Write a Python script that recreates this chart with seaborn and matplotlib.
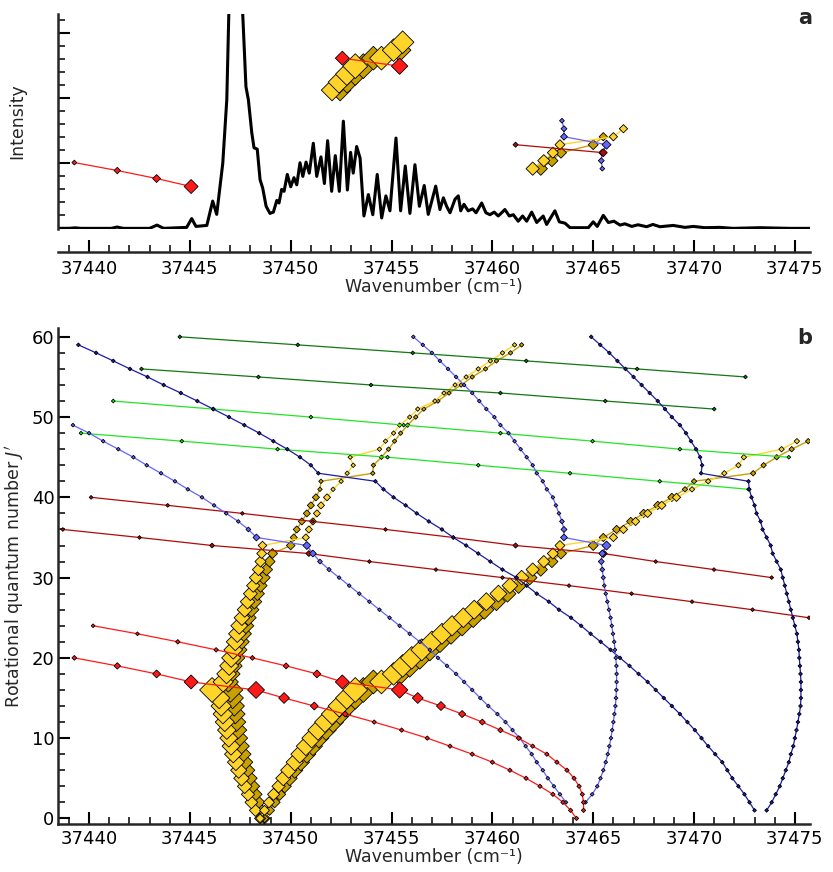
import numpy as np
import pandas as pd
import matplotlib
matplotlib.use("Agg")
import matplotlib.pyplot as plt
import seaborn as sns
from matplotlib.ticker import MultipleLocator

# ---------------- data: panel a spectrum (wavenumber, intensity) ----------------
spectrum_points = [
    (37438.46, 0.0), (37439.0, 0.0), (37439.31, 0.008), (37439.6, 0.0), (37440.55, 0.0),
    (37441.1, 0.0), (37441.39, 0.02), (37441.7, 0.0), (37442.03, 0.0), (37443.0, 0.0),
    (37443.37, 0.05), (37443.7, 0.0), (37444.51, 0.01), (37444.84, 0.015), (37445.09, 0.15),
    (37445.3, 0.03), (37445.84, 0.045), (37446.13, 0.42), (37446.33, 0.215), (37446.63, 1.0),
    (37446.83, 1.98), (37446.93, 3.3), (37447.25, 5.0), (37447.62, 3.3), (37447.78, 2.18),
    (37447.9, 1.98), (37448.07, 1.47), (37448.18, 1.24), (37448.34, 1.22), (37448.48, 0.75),
    (37448.61, 0.62), (37448.78, 0.34), (37448.97, 0.23), (37449.14, 0.25), (37449.31, 0.43),
    (37449.42, 0.39), (37449.55, 0.60), (37449.67, 0.57), (37449.83, 0.83), (37450.0, 0.64),
    (37450.16, 0.78), (37450.3, 0.67), (37450.46, 1.01), (37450.6, 0.80), (37450.76, 1.02),
    (37450.92, 0.85), (37451.12, 1.31), (37451.29, 0.80), (37451.5, 1.10), (37451.67, 0.69),
    (37451.83, 1.35), (37452.03, 0.57), (37452.21, 1.12), (37452.41, 0.57), (37452.61, 1.65),
    (37452.81, 0.59), (37452.97, 1.17), (37453.1, 0.85), (37453.27, 1.26), (37453.44, 1.08),
    (37453.63, 0.19), (37453.85, 0.52), (37454.07, 0.21), (37454.29, 0.83), (37454.51, 0.16),
    (37454.72, 0.50), (37454.92, 0.27), (37455.22, 1.39), (37455.45, 0.27), (37455.68, 0.96),
    (37455.91, 0.23), (37456.16, 0.98), (37456.38, 0.34), (37456.62, 0.66), (37456.82, 0.215),
    (37457.19, 0.65), (37457.4, 0.29), (37457.57, 0.47), (37457.73, 0.34), (37457.9, 0.24),
    (37458.15, 0.45), (37458.31, 0.50), (37458.43, 0.27), (37458.59, 0.37), (37458.8, 0.27),
    (37459.02, 0.30), (37459.19, 0.24), (37459.47, 0.39), (37459.68, 0.24), (37459.88, 0.21),
    (37460.09, 0.25), (37460.29, 0.19), (37460.46, 0.24), (37460.62, 0.29), (37460.84, 0.19),
    (37461.04, 0.21), (37461.28, 0.11), (37461.5, 0.19), (37461.7, 0.11), (37461.95, 0.25),
    (37462.2, 0.09), (37462.52, 0.19), (37462.69, 0.06), (37463.1, 0.27), (37463.32, 0.10),
    (37463.6, 0.08), (37463.85, 0.01), (37464.76, 0.01), (37465.0, 0.10), (37465.2, 0.03),
    (37465.5, 0.20), (37465.75, 0.09), (37466.03, 0.11), (37466.33, 0.05), (37466.57, 0.07),
    (37466.91, 0.03), (37467.22, 0.055), (37467.65, 0.025), (37467.96, 0.06), (37468.31, 0.025),
    (37468.97, 0.045), (37469.55, 0.015), (37469.96, 0.03), (37470.54, 0.01), (37471.28, 0.015),
    (37471.94, 0.0), (37473.27, 0.01), (37474.75, 0.0), (37475.74, 0.0),
]

# ---------------- data: panel b assignments (wavenumber per J') ----------------
# yellow P-like branch (light / dark), J' = 0..59
J_P = list(range(0, 60))
x_P_light = [37448.48, 37448.25, 37448.05, 37447.88, 37447.72, 37447.56, 37447.42, 37447.28,
             37447.15, 37447.04, 37446.93, 37446.83, 37446.73, 37446.64, 37446.55, 37446.45,
             37446.1, 37446.65, 37446.82, 37446.95, 37447.05, 37447.15, 37447.25, 37447.35,
             37447.45, 37447.58, 37447.72, 37447.86, 37448.0, 37448.14, 37448.28, 37448.4,
             37448.5, 37448.56, 37448.6, 37450.75, 37450.9, 37451.1, 37451.3, 37451.5,
             37451.8, 37452.1, 37452.5, 37452.8, 37453.1, 37452.95, 37454.4, 37454.7,
             37455.1, 37455.4, 37455.9, 37456.3, 37457.15, 37457.6, 37458.15, 37458.7,
             37459.3, 37459.9, 37460.5, 37461.1]
x_P_dark = [37448.7, 37448.55, 37448.4, 37448.25, 37448.1, 37447.95, 37447.82, 37447.7,
            37447.6, 37447.5, 37447.42, 37447.36, 37447.3, 37447.25, 37447.2, 37447.12,
            37447.0, 37446.9, 37447.0, 37447.12, 37447.25, 37447.37, 37447.5, 37447.62,
            37447.75, 37447.9, 37448.05, 37448.2, 37448.35, 37448.5, 37448.65, 37448.8,
            37448.95, 37449.1, 37450.0, 37450.15, 37450.3, 37450.55, 37450.8, 37451.0,
            37451.25, 37451.45, 37451.5, 37454.07, 37454.1, 37454.5, 37454.85, 37455.15,
            37455.45, 37455.8, 37456.2, 37456.6, 37457.3, 37457.85, 37458.45, 37459.0,
            37459.66, 37460.2, 37460.9, 37461.45]
rel_P = [.18, .22, .25, .27, .33, .38, .41, .45, .48, .51, .51, .55, .58, .62, .66, .74,
         1.0, .66, .62, .58, .58, .55, .51, .48, .45, .38, .355, .33, .30, .27, .27, .22,
         .18, .14, .10] + [.06] * 6 + [.01] * 19

# yellow R-like branch (light / dark), J' = 0..47
J_R = list(range(0, 48))
x_R_light = [37448.48, 37448.7, 37448.92, 37449.15, 37449.4, 37449.63, 37449.9, 37450.2,
             37450.45, 37450.75, 37451.04, 37451.35, 37451.7, 37452.05, 37452.4, 37452.78,
             37453.2, 37454.5, 37455.1, 37455.55, 37456.0, 37456.5, 37457.0, 37457.5,
             37458.0, 37458.56, 37459.1, 37459.7, 37460.3, 37460.87, 37461.45, 37462.0,
             37462.55, 37463.0, 37463.35, 37466.0, 37466.5, 37467.1, 37467.7, 37468.4,
             37469.13, 37469.9, 37470.7, 37471.5, 37472.2, 37472.47, 37474.34, 37475.1]
x_R_dark = [37448.7, 37448.95, 37449.2, 37449.45, 37449.7, 37449.95, 37450.2, 37450.5,
            37450.8, 37451.1, 37451.4, 37451.75, 37452.1, 37452.45, 37452.8, 37453.2,
            37453.6, 37454.1, 37455.4, 37455.9, 37456.4, 37456.9, 37457.4, 37457.95,
            37458.5, 37459.05, 37459.6, 37460.2, 37460.75, 37461.3, 37461.85, 37462.4,
            37462.95, 37463.4, 37465.0, 37465.5, 37466.16, 37466.86, 37467.5, 37468.2,
            37468.9, 37469.55, 37470.0, 37472.93, 37473.45, 37474.1, 37474.84, 37475.66]
rel_R = [.10, .14, .18, .22, .27, .355, .41, .48, .51, .58, .62, .66, .70, .74, .78, .82,
         1.10, .91, .82, .82, .82, .78, .74, .70, .66, .62, .58, .51, .45, .38, .33, .27,
         .22, .18, .14] + [.09] * 6 + [.025] * 7

# dark green
J_dg1 = [60, 59, 58, 57, 56, 55]
x_dg1 = [37444.5, 37450.35, 37456.05, 37461.68, 37467.18, 37472.55]
J_dg2 = [56, 55, 54, 53, 52, 51]
x_dg2 = [37442.6, 37448.4, 37453.98, 37460.4, 37465.6, 37471.0]
# bright green
J_g1 = [52, 51, 50, 49, 48, 47, 46, 45]
x_g1 = [37441.2, 37446.16, 37451.0, 37455.6, 37460.4, 37464.97, 37469.3, 37474.7]
J_g2 = [48, 47, 46, 45, 44, 43, 42, 41]
x_g2 = [37439.6, 37444.6, 37449.35, 37454.8, 37459.3, 37463.85, 37468.3, 37472.7]
# dark red
J_dr1 = [40, 39, 38, 37, 36, 35, 34, 33, 32, 31, 30]
x_dr1 = [37440.1, 37443.9, 37447.6, 37451.1, 37454.7, 37458.06, 37461.15, 37465.5,
         37468.1, 37470.99, 37473.85]
rel_dr1 = [0, 0, 0, 0, 0, 0, .02, .08, 0, 0, 0]
J_dr2 = [36, 35, 34, 33, 32, 31, 30, 29, 28, 27, 26, 25]
x_dr2 = [37438.7, 37442.5, 37446.1, 37450.9, 37453.9, 37457.2, 37460.5, 37463.8,
         37466.9, 37469.9, 37472.9, 37475.7]
rel_dr2 = [0, 0, .015, .035, 0, 0, 0, 0, 0, 0, 0, 0]
# red
J_r1 = list(range(24, 0, -1))
x_r1 = [37440.2, 37442.4, 37444.4, 37446.3, 37448.1, 37449.77, 37451.3, 37452.56,
        37455.4, 37456.3, 37457.45, 37458.5, 37459.5, 37460.4, 37461.3, 37462.0,
        37462.7, 37463.2, 37463.7, 37464.05, 37464.3, 37464.46, 37464.52, 37464.52]
rel_r1 = [0, 0, .01, .01, .015, .035, .08, .30, .42, .17, .11, .06, .035, .025, .015] + [.008] * 9
J_r2 = list(range(20, -1, -1))
x_r2 = [37439.27, 37441.4, 37443.35, 37445.06, 37448.28, 37449.67, 37451.17, 37452.7,
        37454.14, 37455.5, 37456.77, 37457.9, 37459.0, 37460.0, 37460.87, 37461.67,
        37462.36, 37463.0, 37463.5, 37463.88, 37464.17]
rel_r2 = [.015, .045, .08, .30, .45, .17, .08, .035] + [.008] * 13
# dark blue
J_db1 = list(range(59, 0, -1))
x_db1 = [37439.47, 37440.35, 37441.2, 37442.03, 37442.9, 37443.7, 37444.55, 37445.37,
         37446.16, 37446.94, 37447.7, 37448.44, 37449.14, 37449.83, 37450.46, 37451.0,
         37451.37, 37454.2, 37454.6, 37455.1, 37455.7, 37456.25, 37456.85, 37457.5,
         37458.06, 37458.7, 37459.3, 37459.9, 37460.5, 37461.2, 37461.7, 37462.2,
         37462.8, 37463.3, 37463.9, 37464.4, 37464.87, 37465.37, 37465.86, 37466.33,
         37466.8, 37467.25, 37467.7, 37468.1, 37468.5, 37468.9, 37469.3, 37469.67,
         37470.04, 37470.37, 37470.7, 37471.05, 37471.4, 37471.65, 37471.9, 37472.2,
         37472.5, 37472.75, 37473.0]
J_db2 = list(range(60, 0, -1))
x_db2 = [37464.9, 37465.35, 37465.8, 37466.2, 37466.6, 37467.0, 37467.4, 37467.8,
         37468.2, 37468.56, 37468.9, 37469.3, 37469.6, 37469.85, 37470.1, 37470.3,
         37470.4, 37470.35, 37472.7, 37472.74, 37472.85, 37473.0, 37473.1, 37473.3,
         37473.4, 37473.6, 37473.8, 37473.9, 37474.1, 37474.3, 37474.4, 37474.5,
         37474.6, 37474.7, 37474.8, 37474.9, 37475.0, 37475.1, 37475.15, 37475.2,
         37475.22, 37475.25, 37475.28, 37475.3, 37475.3, 37475.3, 37475.28, 37475.22,
         37475.15, 37475.08, 37475.0, 37474.92, 37474.8, 37474.7, 37474.55, 37474.4,
         37474.25, 37474.05, 37473.85, 37473.6]
# light blue
J_lb1 = list(range(49, 1, -1))
x_lb1 = [37439.2, 37440.0, 37440.7, 37441.45, 37442.2, 37442.86, 37443.57, 37444.26,
         37444.9, 37445.6, 37446.2, 37446.8, 37447.4, 37447.9, 37448.3, 37450.8,
         37451.1, 37451.45, 37451.9, 37452.4, 37452.9, 37453.4, 37453.9, 37454.4,
         37454.9, 37455.4, 37455.9, 37456.4, 37456.9, 37457.3, 37457.75, 37458.2,
         37458.6, 37459.0, 37459.4, 37459.8, 37460.25, 37460.65, 37461.0, 37461.35,
         37461.65, 37461.95, 37462.2, 37462.5, 37462.75, 37463.05, 37463.35, 37463.65]
rel_lb1 = [0] * 13 + [.015, .055, .08, .055, .015, .008] + [0] * 29
J_lb2 = list(range(60, 1, -1))
x_lb2 = [37456.08, 37456.55, 37457.0, 37457.4, 37457.8, 37458.2, 37458.6, 37459.0,
         37459.35, 37459.7, 37460.1, 37460.4, 37460.8, 37461.1, 37461.4, 37461.7,
         37462.0, 37462.2, 37462.5, 37462.7, 37463.0, 37463.15, 37463.3, 37463.45,
         37463.55, 37463.55, 37465.66, 37465.45, 37465.4, 37465.45, 37465.5, 37465.55,
         37465.62, 37465.7, 37465.78, 37465.86, 37465.92, 37465.98, 37466.04, 37466.08,
         37466.12, 37466.15, 37466.16, 37466.16, 37466.15, 37466.13, 37466.1, 37466.05,
         37466.0, 37465.94, 37465.88, 37465.8, 37465.72, 37465.62, 37465.5, 37465.36,
         37465.2, 37464.95, 37464.62]
rel_lb2 = [0] * 23 + [.015, .035, .055, .11, .055, .035, .015, .008] + [0] * 28

# assignments re-drawn as markers in panel a: (anchor J', anchor intensity, members)
overlay_windows = [
    (17, 2.62, [("R_dark", 13, 18), ("R_light", 13, 19), ("red_1", 16, 17)]),
    (34, 1.288, [("R_dark", 31, 35), ("R_light", 31, 36), ("lblue_2", 31, 37), ("dred_1", 33, 34)]),
    (17, 0.644, [("red_2", 17, 20)]),
]

# ---------------- styling ----------------
C_GOLD_L, C_GOLD_D = "#ffd42a", "#c8a000"
C_DGREEN, C_GREEN = "#127812", "#22e622"
C_DRED, C_RED = "#b00a0a", "#ff1a1a"
C_DBLUE, C_LBLUE = "#1c1ca8", "#6464ff"

series = {
    "P_dark": (x_P_dark, J_P, rel_P, C_GOLD_D),
    "R_dark": (x_R_dark, J_R, rel_R, C_GOLD_D),
    "P_light": (x_P_light, J_P, rel_P, C_GOLD_L),
    "R_light": (x_R_light, J_R, rel_R, C_GOLD_L),
    "dgreen_1": (x_dg1, J_dg1, [0] * len(J_dg1), C_DGREEN),
    "dgreen_2": (x_dg2, J_dg2, [0] * len(J_dg2), C_DGREEN),
    "green_1": (x_g1, J_g1, [0] * len(J_g1), C_GREEN),
    "green_2": (x_g2, J_g2, [0] * len(J_g2), C_GREEN),
    "dred_1": (x_dr1, J_dr1, rel_dr1, C_DRED),
    "dred_2": (x_dr2, J_dr2, rel_dr2, C_DRED),
    "dblue_1": (x_db1, J_db1, [0] * len(J_db1), C_DBLUE),
    "dblue_2": (x_db2, J_db2, [0] * len(J_db2), C_DBLUE),
    "lblue_1": (x_lb1, J_lb1, rel_lb1, C_LBLUE),
    "lblue_2": (x_lb2, J_lb2, rel_lb2, C_LBLUE),
    "red_1": (x_r1, J_r1, rel_r1, C_RED),
    "red_2": (x_r2, J_r2, rel_r2, C_RED),
}
for k, (xs, js, rs, _) in series.items():
    assert len(xs) == len(js) == len(rs), (k, len(xs), len(js), len(rs))

S_MIN, S_MAX = 3.6, 160.0
J_TO_INT = 8.02 / 65.2   # J' step of panel b expressed in panel-a intensity units
XLIM = (37438.46, 37475.75)
FS_LABEL, FS_TICK = 12.5, 13.0

sns.set_theme(style="ticks")
plt.rcParams["font.family"] = ["DejaVu Sans"]
plt.rcParams["mathtext.fontset"] = "dejavusans"

fig = plt.figure(figsize=(8.33, 8.72), dpi=100)
axA = fig.add_axes([58 / 833, 1 - 229 / 872, (810 - 58) / 833, (229 - 14) / 872])
axB = fig.add_axes([58 / 833, 1 - 824 / 872, (810 - 58) / 833, (824 - 328) / 872])


def draw(ax, w, y, rel, color, z):
    df = pd.DataFrame({"w": w, "y": y, "rel": rel})
    lw = 1.0 if color in (C_GOLD_L, C_GOLD_D) else 0.9
    sns.lineplot(data=df, x="w", y="y", sort=False, estimator=None, color=color,
                 linewidth=lw, ax=ax, zorder=z, legend=False)
    sns.scatterplot(data=df, x="w", y="y", size="rel", sizes=(S_MIN, S_MAX), size_norm=(0, 1),
                    marker="D", color=color, edgecolor="black", linewidth=0.6,
                    ax=ax, zorder=z + 0.5, legend=False)


# panel a: spectrum
spec = pd.DataFrame(spectrum_points, columns=["w", "I"])
sns.lineplot(data=spec, x="w", y="I", sort=False, estimator=None, color="black",
             linewidth=2.2, ax=axA, zorder=2)

# panel a: assignment markers
z = 4
for J0, I0, members in overlay_windows:
    for key, jlo, jhi in members:
        xs, js, rs, col = series[key]
        d = pd.DataFrame({"w": xs, "J": js, "rel": rs})
        d = d[(d.J >= jlo) & (d.J <= jhi)]
        draw(axA, d.w.values, I0 + (d.J.values - J0) * J_TO_INT, d.rel.values, col, z)
        z += 1

# panel b
for i, (key, (xs, js, rs, col)) in enumerate(series.items()):
    draw(axB, xs, js, rs, col, 3 + i)

# ---------------- axes cosmetics ----------------
for ax in (axA, axB):
    ax.set_xlim(*XLIM)
    ax.xaxis.set_major_locator(MultipleLocator(5))
    ax.xaxis.set_minor_locator(MultipleLocator(1))
    for s in ("top", "right"):
        ax.spines[s].set_visible(False)
    for s in ("left", "bottom"):
        ax.spines[s].set_linewidth(1.8)
    ax.tick_params(which="major", direction="in", length=8.5, width=1.5, labelsize=FS_TICK,
                   colors="black")
    ax.tick_params(which="minor", direction="in", length=5, width=1.3)
    ax.tick_params(axis="x", pad=4)
    ax.tick_params(axis="y", pad=2.5)
    ax.set_xlabel("Wavenumber (cm\u207b\u00b9)", fontsize=FS_LABEL, labelpad=0)

axA.set_ylim(-0.01, 3.3)
axA.yaxis.set_major_locator(MultipleLocator(1))
axA.yaxis.set_minor_locator(MultipleLocator(0.2))
axA.set_yticklabels([])
axA.spines["bottom"].set_position(("outward", 16.5))
axA.tick_params(axis="x", pad=6)
axA.set_ylabel("Intensity", fontsize=FS_LABEL)
axA.yaxis.set_label_coords(-0.042, 0.5)

axB.set_ylim(-0.7, 61.1)
axB.yaxis.set_major_locator(MultipleLocator(10))
axB.yaxis.set_minor_locator(MultipleLocator(2))
axB.set_ylabel("Rotational quantum number $J'$", fontsize=FS_LABEL)
axB.yaxis.set_label_coords(-0.042, 0.5)

fig.text(805 / 833, 1 - 18 / 872, "a", ha="center", va="center", fontsize=15, fontweight="bold")
fig.text(805 / 833, 1 - 338 / 872, "b", ha="center", va="center", fontsize=15, fontweight="bold")

fig.savefig("out.png", dpi=100)
